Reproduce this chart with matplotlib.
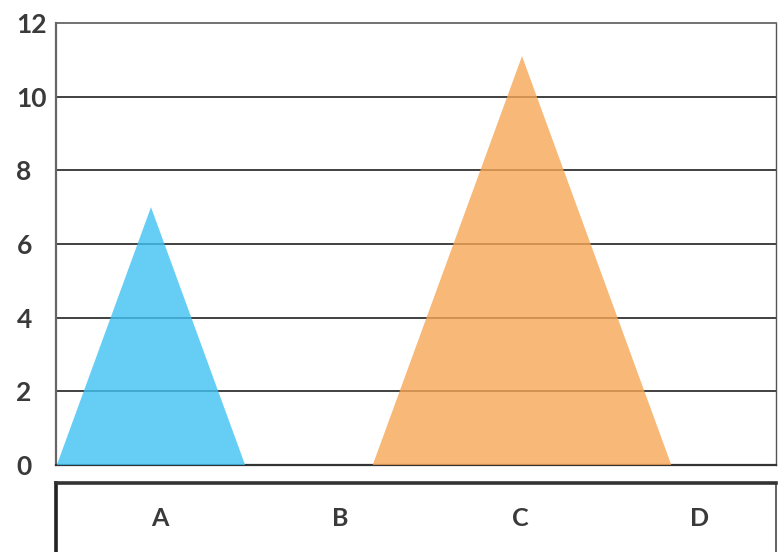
import matplotlib
matplotlib.use("Agg")
import matplotlib.pyplot as plt
from matplotlib.patches import Polygon

categories = ["A", "B", "C", "D"]
values = [7, 0, 11.1, 0]
colors = ["#40C2F3", None, "#F5A656", None]
y_ticks = [0, 2, 4, 6, 8, 10, 12]

W, H = 778, 552
fig = plt.figure(figsize=(W / 100, H / 100), dpi=100)

# main plotting area
ax = fig.add_axes([56 / W, (H - 465) / H, (776 - 56) / W, (465 - 23) / H])
ax.set_xlim(-0.512, 3.369)
ax.set_ylim(0, 12)

# triangle half-width grows with value (similar shapes)
half_per_unit = 0.0725
for i, (v, c) in enumerate(zip(values, colors)):
    if v <= 0 or c is None:
        continue
    hw = v * half_per_unit
    tri = Polygon([(i - hw, 0), (i, v), (i + hw, 0)], closed=True,
                  facecolor=c, edgecolor="none", alpha=0.8, zorder=3)
    ax.add_patch(tri)

for y in y_ticks[1:-1]:
    ax.axhline(y, color="#333333", lw=1.3, zorder=1)

ax.set_yticks(y_ticks)
ax.set_yticklabels([str(t) for t in y_ticks], fontsize=19, fontweight="bold",
                   color="#3a3a3a", fontfamily="Lato", ha="left")
ax.tick_params(axis="y", length=0, pad=28.5)
ax.set_xticks([])
for side, col, lw in [("left", "#666666", 1.6), ("top", "#666666", 1.3),
                      ("right", "#555555", 1.0), ("bottom", "#333333", 1.6)]:
    ax.spines[side].set_color(col)
    ax.spines[side].set_linewidth(lw)

# category label strip underneath
bx = fig.add_axes([56 / W, -0.1, (776 - 56) / W, 0.1 + (H - 483) / H])
bx.set_xlim(-0.578, 3.422)
bx.set_ylim(0, 1)
bx.set_xticks([])
bx.set_yticks([])
label_y = (0.1 + (H - 518) / H) / (0.1 + (H - 483) / H)
for i, name in enumerate(categories):
    bx.text(i, label_y, name, ha="center", va="center", fontsize=18,
            fontweight="bold", color="#3a3a3a", fontfamily="Lato")
bx.spines["left"].set_color("#222222")
bx.spines["left"].set_linewidth(2.6)
bx.spines["top"].set_color("#333333")
bx.spines["top"].set_linewidth(2.6)
bx.spines["right"].set_color("#555555")
bx.spines["right"].set_linewidth(1.3)
bx.spines["bottom"].set_visible(False)

fig.savefig("out.png", dpi=100)
